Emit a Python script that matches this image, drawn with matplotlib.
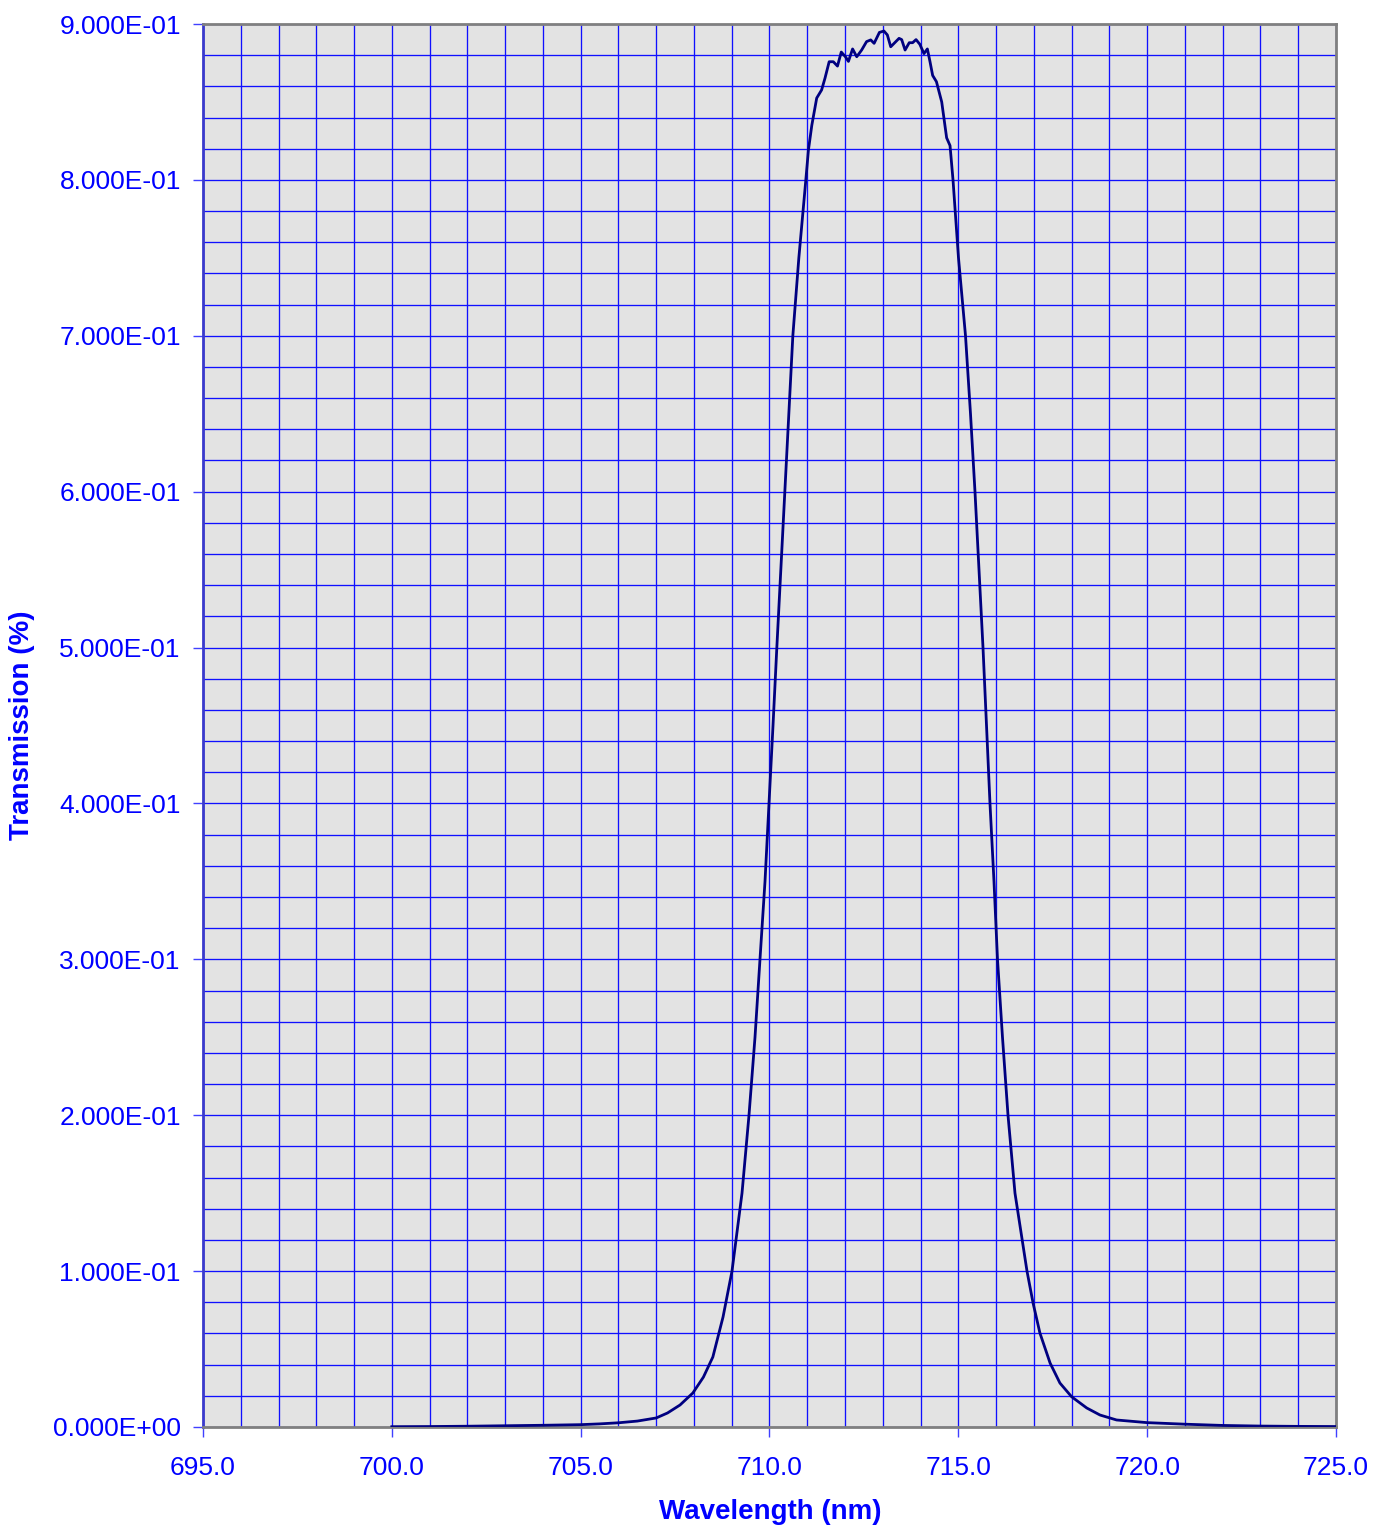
import matplotlib
matplotlib.use("Agg")
import matplotlib.pyplot as plt
from matplotlib.ticker import MultipleLocator, FuncFormatter

plt.rcParams['font.family'] = ['Liberation Sans', 'DejaVu Sans']

# Wavelength (nm) and transmission values
wavelength = [700.0, 701.0, 702.0, 703.0, 704.0, 705.0, 705.5, 706.0, 706.5, 707.0,
              707.3, 707.63, 707.97, 708.25, 708.5, 708.77, 709.007, 709.272, 709.457,
              709.616, 709.748, 709.881, 709.987, 710.093, 710.194, 710.300, 710.406,
              710.512, 710.618, 710.777, 710.962, 711.03,
              711.12, 711.25, 711.38, 711.47, 711.58, 711.69, 711.80, 711.90, 712.01,
              712.09, 712.20, 712.31, 712.44, 712.57, 712.68, 712.77, 712.91, 713.03,
              713.12, 713.21, 713.30, 713.43, 713.50, 713.59, 713.70, 713.79, 713.88,
              713.98, 714.09, 714.18, 714.25, 714.32, 714.42, 714.56, 714.69, 714.78,
              714.859, 715.004, 715.190, 715.322, 715.441, 715.547, 715.653, 715.746,
              715.838, 715.944, 716.037, 716.169, 716.315, 716.500, 716.818, 716.98,
              717.16, 717.43, 717.69, 718.00, 718.40, 718.75, 719.19, 720.0, 721.0,
              722.0, 723.0, 724.0, 725.0]
transmission = [0.0002, 0.0003, 0.0005, 0.0008, 0.0011, 0.0015, 0.0020, 0.0027, 0.0038, 0.0058,
                0.0090, 0.0141, 0.0218, 0.0320, 0.0449, 0.0706, 0.1000, 0.1500, 0.2000,
                0.2500, 0.3000, 0.3500, 0.4000, 0.4500, 0.5000, 0.5500, 0.6000,
                0.6500, 0.7000, 0.7500, 0.8000, 0.8190,
                0.8350, 0.8525, 0.8577, 0.8653, 0.8758, 0.8758, 0.8730, 0.8820, 0.8790,
                0.8760, 0.8840, 0.8790, 0.8833, 0.8887, 0.8898, 0.8876, 0.8946, 0.8955,
                0.8930, 0.8854, 0.8876, 0.8908, 0.8900, 0.8833, 0.8880, 0.8880, 0.8900,
                0.8870, 0.8810, 0.8840, 0.8758, 0.8670, 0.8630, 0.8500, 0.8270, 0.8220,
                0.8000, 0.7500, 0.7000, 0.6500, 0.6000, 0.5500, 0.5000, 0.4500,
                0.4000, 0.3500, 0.3000, 0.2500, 0.2000, 0.1500, 0.1000, 0.0794,
                0.0603, 0.0410, 0.0282, 0.0194, 0.0122, 0.0077, 0.0045, 0.0028, 0.0018,
                0.0010, 0.0006, 0.0004, 0.0003]

x_label = "Wavelength (nm)"
y_label = "Transmission (%)"

W, H = 1375, 1528
fig = plt.figure(figsize=(W / 100, H / 100), dpi=100)
ax = fig.add_axes([203 / W, (H - 1427) / H, 1133 / W, 1403 / H])
ax.set_facecolor('#e3e3e3')

ax.set_xlim(695, 725)
ax.set_ylim(0, 0.9)
ax.xaxis.set_major_locator(MultipleLocator(5))
ax.xaxis.set_minor_locator(MultipleLocator(1))
ax.yaxis.set_major_locator(MultipleLocator(0.1))
ax.yaxis.set_minor_locator(MultipleLocator(0.02))
ax.xaxis.set_major_formatter(FuncFormatter(lambda v, p: f"{v:.1f}"))
ax.yaxis.set_major_formatter(FuncFormatter(lambda v, p: f"{v:.3E}"))

ax.grid(True, which='both', color='#1010ff', linewidth=0.95)
ax.set_axisbelow(True)

ax.plot(wavelength, transmission, color='#000080', linewidth=2.0, zorder=3,
        solid_joinstyle='round')

ax.tick_params(axis='both', which='major', direction='out', length=7, width=1,
               color='#4040ff', labelcolor='#0000ff', labelsize=19)
ax.tick_params(axis='y', which='major', pad=9)
ax.tick_params(axis='x', which='major', pad=14)
ax.tick_params(axis='both', which='minor', length=0)

for side in ['top', 'right', 'bottom']:
    ax.spines[side].set_color('#808080')
    ax.spines[side].set_linewidth(2)
ax.spines['left'].set_color('#3a3acc')
ax.spines['left'].set_linewidth(2)

fig.text(770 / W, 1 - 1512 / H, x_label, ha='center', va='center',
         fontsize=20, fontweight='bold', color='#0000ff')
fig.text(22 / W, 1 - 725 / H, y_label, ha='center', va='center', rotation=90,
         fontsize=20, fontweight='bold', color='#0000ff')

fig.savefig('out.png', dpi=100)
